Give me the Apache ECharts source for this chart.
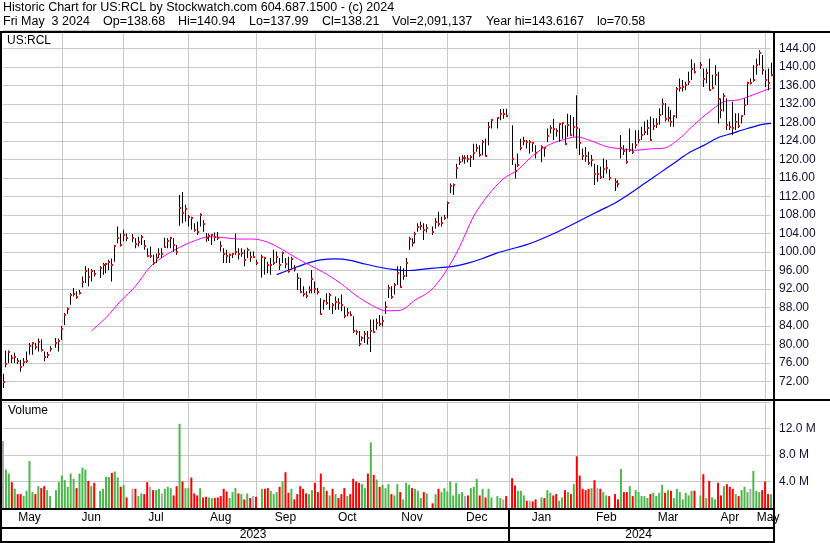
<!DOCTYPE html>
<html><head><meta charset="utf-8">
<script src="https://cdn.jsdelivr.net/npm/echarts@6/dist/echarts.min.js"></script>
<style>html,body{margin:0;padding:0;background:#fff}#c{width:830px;height:543px}</style>
</head><body><div id="c"></div>
<script>
// ---------- data ----------
const startDate = '2023-05-04', endDate = '2024-05-03';
const holidays = ['2023-05-29','2023-06-19','2023-07-04','2023-09-04','2023-11-23','2023-12-25','2024-01-01','2024-01-15','2024-02-19','2024-03-29'];
const monthNames = ['Jan','Feb','Mar','Apr','May','Jun','Jul','Aug','Sep','Oct','Nov','Dec'];
const priceTicks = {min: 68, max: 148, step: 4};
const volumeTicks = {min: 0, max: 16, step: 4};

const highs = [
 73.7,78.7,78.7,77.8,78.2,77.1,76.7,77.1,78.5,80.3,80.5,80.3,81.3,81.1,78.5,78.4,79.6, null,
 81.4,81.3,84.0,86.8,88.0,91.1,92.2,91.5,91.8,94.7,96.9,96.5,96.3,96.1, null,
 96.9,97.6,97.6,98.3,98.6,101.5,105.5,104.0,104.8,104.0, null,
 103.9,103.0,103.3,103.7,102.6,100.8,101.2,99.4,99.7,100.8,100.8,103.1,103.0,103.3,103.0,101.5,112.3,113.0,110.2,108.0,107.6,106.2,106.6,108.4,106.9,104.1,104.0,103.9,104.2,104.3,102.3,100.8,100.5,99.7,99.7,104.0,100.8,100.8,100.5,100.9,100.1,100.1,98.3, null,
 99.4,99.0,97.9,98.7,100.5,100.1,98.7,100.1,98.7,99.0,99.0,97.2,95.4,94.4,92.6,91.5,92.6,96.1,93.6,92.2,90.0,89.7,91.1,91.1,89.0,90.4,90.0,90.8,88.2,87.9,87.2,86.1,83.2,82.9,81.8,82.9,82.9,85.4,85.4,85.6,86.4,86.1,89.3,92.9,92.6,93.3,96.9,96.9,96.5,98.7,103.3,103.0,104.4,106.2,106.6,106.2,106.0, null,
 105.5,107.3,108.7,107.6,108.0,110.9,114.8,114.8,119.1,120.6,120.9,120.9,120.9,120.9,123.4,123.4,123.1,124.2,124.5,128.1,128.8, null,
 129.2,130.9,131.0,131.0, null,
 127.4,119.1,121.3,124.5,124.9,124.2,124.2,123.8,123.1, null,
 123.1,122.7,126.7,127.4,128.8,126.7,127.8,128.0,127.4,129.9,129.6,129.2,133.9,126.7,122.4,122.7,121.7,121.0,119.1,118.8,118.5,120.2,119.9,117.9, null,
 115.9,115.5,125.3,123.1,122.4,126.7,123.5,126.3,126.3,127.1,128.2,128.6,129.3,128.9,128.9,131.1,133.2,132.2,131.4,130.7,129.6,135.7,137.5,137.2,136.8,139.0,141.7,140.8, null,
 141.1,139.7,139.7,141.8,138.3,140.4,139.0,133.2,134.3,133.2,128.2,132.5,130.0,130.0,129.6,133.2,136.8,137.5,140.4,141.8,143.62,142.6,139.3,139.7,140.94
];
const lows = [
 70.58,75.1,76.0,76.0,76.0,75.8,74.1,75.3,76.0,77.8,77.8,78.9,78.5,78.5,76.4,77.1,78.5, null,
 79.3,78.5,81.0,84.2,86.6,88.6,90.4,89.9,90.8,92.3,93.3,92.6,93.6,94.7, null,
 94.4,95.1,95.4,96.1,93.6,97.9,101.9,101.2,102.3,102.3, null,
 102.1,100.8,101.2,101.5,100.5,99.0,98.7,97.2,97.6,98.7,98.7,100.9,100.8,100.8,100.0,99.4,105.7,106.2,106.6,105.5,104.8,104.4,103.7,105.5,104.4,102.2,102.4,101.5,102.3,102.6,100.1,97.6,97.6,97.6,98.7,99.4,98.4,99.0,96.9,98.7,97.9,98.7,97.2, null,
 94.5,95.1,95.4,95.1,97.2,97.6,96.1,97.6,96.5,95.5,96.5,95.8,91.8,91.1,90.4,90.0,91.1,91.1,91.1,90.8,86.4,87.5,88.6,87.5,86.6,87.5,87.5,87.2,85.7,86.1,86.1,82.5,82.1,79.6,80.7,80.3,80.0,78.4,82.5,83.2,84.0,83.9,86.6,90.05,89.9,90.8,92.9,92.2,94.0,94.6,100.5,101.2,101.9,104.4,104.8,102.6,104.2, null,
 103.7,105.1,105.5,105.5,107.0,107.3,112.7,112.3,115.9,118.8,119.5,119.1,119.4,118.4,119.9,121.7,120.6,120.9,120.6,123.1,126.7, null,
 126.7,128.5,128.8,129.3, null,
 118.8,115.9,118.4,122.0,123.1,122.4,121.3,121.7,120.2, null,
 119.4,120.6,123.8,125.6,124.2,124.9,123.8,124.5,123.1,124.9,125.2,125.0,122.4,121.0,119.9,119.5,118.8,118.5,114.5,115.2,115.8,116.0,117.0,115.5, null,
 113.2,114.0,120.2,121.0,119.1,121.7,121.2,122.4,123.5,124.2,125.3,125.3,124.0,126.4,126.8,127.5,129.6,128.2,128.2,127.1,127.1,128.9,134.7,134.7,135.0,136.1,137.2,138.6, null,
 139.6,135.7,136.5,134.8,135.2,136.1,127.8,128.9,130.4,126.4,126.4,125.3,126.4,126.8,127.8,129.6,131.8,136.2,136.8,138.3,140.4,138.3,135.7,135.0,137.99
];
const closes = [
 71.8,75.7,78.3,77.0,77.3,76.5,75.1,76.2,76.5,79.6,80.3,79.5,80.5,78.8,77.3,77.8,79.0, null,
 80.3,80.8,83.3,86.3,87.6,90.8,91.0,90.2,91.2,93.6,95.8,94.6,95.9,95.2, null,
 96.6,97.2,97.5,97.8,97.2,101.4,103.1,101.5,103.7,103.1, null,
 103.1,101.8,102.1,103.3,101.4,99.2,99.2,97.6,98.8,99.5,99.5,101.1,102.4,103.0,101.5,100.0,109.6,108.4,109.2,107.5,107.3,104.8,104.3,108.0,106.1,103.1,103.4,103.6,103.3,103.0,101.2,99.5,99.2,99.4,99.6,100.0,99.5,99.7,98.3,100.5,99.0,99.0,97.6, null,
 99.0,98.8,97.1,97.2,97.7,99.0,97.2,99.7,97.5,95.9,98.5,96.4,94.4,91.3,91.0,90.4,91.8,94.1,92.1,91.3,86.7,89.5,88.9,90.8,88.6,89.2,89.0,88.6,86.1,86.8,86.4,82.9,82.7,80.1,81.3,82.3,81.5,82.9,82.6,84.6,84.4,85.0,88.2,92.3,90.3,92.9,95.4,92.4,94.9,97.7,102.8,102.0,103.8,105.5,105.7,104.8,105.1, null,
 104.4,106.4,106.0,106.2,107.4,110.7,114.3,114.4,118.2,119.5,120.4,120.4,120.1,120.6,121.3,122.5,120.9,123.8,120.7,127.0,128.5, null,
 129.0,129.8,129.8,129.4, null,
 120.1,117.5,118.8,122.5,124.0,123.7,123.7,123.5,121.3, null,
 122.7,122.4,125.1,126.8,126.7,126.2,127.6,127.8,123.3,127.4,125.4,127.0,126.8,123.5,120.8,120.7,119.3,120.0,116.9,116.9,116.2,117.9,118.2,116.0, null,
 115.2,114.8,122.5,121.9,119.5,122.0,121.6,123.1,124.3,125.3,125.9,126.9,124.2,127.3,127.6,129.6,132.0,128.7,128.9,128.2,129.3,135.2,135.5,135.7,136.1,136.8,139.5,139.0, null,
 140.4,137.4,138.6,135.0,135.5,138.3,133.1,130.7,133.8,127.5,127.1,126.8,128.2,127.3,129.3,131.8,136.5,136.5,137.2,140.4,143.1,139.3,137.2,136.6,138.21
];
// volume in millions of shares
const volumes = [
 10.1,5.8,5.2,3.9,2.9,2.1,2.1,1.8,2.6,7.1,2.4,2.1,3.3,3.0,3.3,2.7,1.8, null,
 2.7,3.9,4.9,4.2,3.2,5.2,4.4,3.0,5.2,6.1,5.8,4.1,3.3,3.8, null,
 2.6,2.9,4.7,4.7,5.3,5.5,4.6,3.2,3.5,1.6, null,
 2.9,2.9,1.8,2.2,2.1,3.9,3.2,2.7,2.7,2.9,2.2,2.9,3.2,3.0,1.9,3.3,12.7,4.0,3.0,3.0,4.6,2.2,1.9,3.0,1.6,1.7,1.6,1.5,1.5,1.6,1.8,2.9,2.5,1.5,2.4,3.0,2.2,2.1,1.3,2.2,1.5,1.8,1.7, null,
 2.9,2.9,3.0,2.6,2.1,2.4,3.2,4.0,5.4,2.3,2.9,1.3,2.1,3.3,2.9,2.2,2.1,2.7,3.8,2.4,5.2,3.2,2.6,1.9,2.9,2.1,1.5,2.1,3.0,1.8,2.1,4.4,4.0,3.8,3.6,3.0,5.2,9.9,5.0,4.3,3.2,3.5,3.0,3.6,2.1,1.9,3.6,2.4,1.3,3.8,3.5,3.0,2.9,2.6,1.5,2.4,2.2, null,
 0.7,2.1,2.9,2.4,3.0,2.5,4.0,1.9,3.8,2.1,2.4,1.8,1.9,3.0,3.2,4.4,1.9,2.9,1.6,2.9,1.6, null,
 1.8,1.5,1.3,1.8, null,
 4.5,3.4,2.6,2.6,1.9,1.1,1.1,1.0,1.3, null,
 1.6,1.5,2.7,2.3,1.9,2.1,1.1,1.6,2.7,2.4,2.1,3.6,7.8,4.9,2.9,2.7,2.9,3.0,4.2,3.0,2.9,2.4,1.9,1.8, null,
 2.1,1.3,5.9,2.4,2.4,3.3,1.8,2.7,2.4,1.8,1.8,1.5,2.1,2.3,1.8,2.3,3.5,2.3,2.7,2.6,1.5,2.9,2.4,1.3,2.3,1.9,2.6,2.6, null,
 1.9,5.1,1.5,4.1,1.6,1.3,3.8,1.9,3.3,3.6,3.2,2.9,2.1,1.8,2.7,3.2,2.4,2.9,5.6,2.6,2.4,2.7,4.0,2.1,2.09
];
// g = up, r = down, n = unchanged, - = holiday
const volDirs = [
 'nggrgrrggggrgrrgg','-','gggggggrgggrgr','-','ggggrggrgr','-',
 'nrggrrnrggngggrrgrggrrrgrrggrrrrrgggrgrgrnr','-',
 'grrgggrgrrgrrrrrggrrrgrgrgrrrgrrrrggrgrgrgggrggrgggrgggrg','-',
 'rgrggggggggnrgggrgrgg','-','ggnr','-','rrgggrnrr','-',
 'grggrrggrgrgrrrrrgrnrggr','-','rrgrrgrgggggrggggrgrgggggggr','-',
 'grgrggrrgrrrgrgggngggrrrg'
].join('').split('');
// moving averages: [weekday slot, value]
const maFast = [[30,82.9],[35,85.8],[40,89.4],[45,92.6],[50,96.8],[55,99.2],[60,101.0],[65,102.4],[70,103.3],[75,103.1],[80,102.8],[85,102.8],[90,102.1],[95,100.5],[100,98.6],[105,96.9],[110,95.2],[115,93.1],[120,90.6],[125,88.6],[130,87.3],[135,87.4],[140,89.6],[145,91.5],[150,95.3],[155,100.9],[160,107.8],[165,112.4],[170,115.8],[175,117.8],[180,120.8],[185,123.0],[190,124.2],[195,124.9],[200,124.0],[205,122.8],[210,122.3],[215,122.0],[220,122.3],[225,122.5],[230,124.6],[235,127.6],[240,130.3],[245,132.5],[250,132.9],[255,134.0],[260,135.2],[261,135.4]];
const maSlow = [[93,95.1],[98,96.3],[103,97.5],[108,98.3],[113,98.5],[118,98.2],[123,97.4],[128,96.7],[133,96.2],[138,96.0],[143,96.3],[148,96.6],[153,96.9],[158,97.6],[163,98.6],[168,99.8],[173,100.7],[178,101.6],[183,102.8],[188,104.2],[193,105.8],[198,107.4],[203,109.0],[208,110.6],[213,112.6],[218,114.8],[223,117.0],[228,119.2],[233,121.4],[238,123.0],[243,124.7],[248,125.7],[253,126.7],[258,127.6],[261,127.8]];

const headerLine1 = 'Historic Chart for US:RCL by Stockwatch.com 604.687.1500 - (c) 2024';
const headerFields = ['Fri May  3 2024', 'Op=138.68', 'Hi=140.94', 'Lo=137.99', 'Cl=138.21', 'Vol=2,091,137', 'Year hi=143.6167', 'lo=70.58'];

// ---------- build weekday categories ----------
const DAY = 86400000;
const dates = [];
for (let t = Date.parse(startDate + 'T00:00:00Z'); t <= Date.parse(endDate + 'T00:00:00Z'); t += DAY) {
  const wd = new Date(t).getUTCDay();
  if (wd === 0 || wd === 6) continue;
  dates.push(new Date(t).toISOString().slice(0, 10));
}
const dayOf = s => new Date(s + 'T00:00:00Z');
const monthLine = dates.map((s) => {
  const d = dayOf(s);
  if (d.getUTCDate() === 1) return true;
  if (d.getUTCDay() === 5) {
    return new Date(d.getTime() + DAY).getUTCDate() === 1 || new Date(d.getTime() + 2 * DAY).getUTCDate() === 1;
  }
  return false;
});
monthLine[0] = false;
const groupMid = (keyFn) => {
  const g = {};
  dates.forEach((s, i) => { const k = keyFn(s); (g[k] = g[k] || []).push(i); });
  const set = new Set();
  Object.values(g).forEach(a => set.add(Math.floor((a[0] + a[a.length - 1]) / 2)));
  return set;
};
const monthMid = groupMid(s => s.slice(0, 7));
const yearMid = groupMid(s => s.slice(0, 4));
const janIdx = dates.indexOf('2024-01-01');

const ohlc = [];
dates.forEach((s, i) => { if (closes[i] != null) ohlc.push([i, highs[i], lows[i], closes[i]]); });
const dirColor = {g: '#4cb84c', r: '#ff0000', n: '#aaaaaa'};
const volData = volumes.map((v, i) => v == null ? null : {value: v, itemStyle: {color: dirColor[volDirs[i]]}});
const toLine = pairs => { const a = dates.map(() => null); pairs.forEach(([i, v]) => a[i] = v); return a; };

const FONT = '"Liberation Sans", Arial, sans-serif';
const HEAD_FONT = '12.5px ' + FONT;
const gridColor = '#c8c8c8';
const labelColor = '#101030';

// spread the second header line fields evenly between x=3 and x=645
const mctx = document.createElement('canvas').getContext('2d');
mctx.font = HEAD_FONT;
const fw = headerFields.map(t => mctx.measureText(t).width);
const gap = (642 - fw.reduce((a, b) => a + b, 0)) / (headerFields.length - 1);
const fieldX = [];
fw.reduce((x, w, k) => { fieldX[k] = x; return x + w + gap; }, 3);

const chart = echarts.init(document.getElementById('c'), null, {renderer: 'canvas'});
const frame = (x1, y1, x2, y2, w) => ({type: 'line', silent: true, z: 100, shape: {x1, y1, x2, y2}, style: {stroke: '#000', lineWidth: w}});
const texts = [
  {type: 'text', x: 3, y: 1, silent: true, style: {text: headerLine1, font: HEAD_FONT, fill: '#000'}},
  ...headerFields.map((t, k) => ({type: 'text', x: Math.round(fieldX[k]), y: 15, silent: true, style: {text: t, font: HEAD_FONT, fill: '#000'}})),
  {type: 'text', x: 7, y: 35, silent: true, style: {text: 'US:RCL', font: '12px ' + FONT, fill: '#000'}},
  {type: 'text', x: 8, y: 405, silent: true, style: {text: 'Volume', font: '12px ' + FONT, fill: '#000'}}
];

chart.setOption({
  animation: false,
  backgroundColor: '#fff',
  grid: [
    {left: 3, right: 59, top: 30, height: 370},
    {left: 3, right: 59, top: 402, height: 106}
  ],
  xAxis: [
    {gridIndex: 0, type: 'category', data: dates, boundaryGap: false,
      axisLine: {show: false}, axisTick: {show: false}, axisLabel: {show: false},
      splitLine: {show: true, interval: (i) => monthLine[i], lineStyle: {color: gridColor, width: 1}}},
    {gridIndex: 1, type: 'category', data: dates, boundaryGap: false,
      axisLine: {show: false},
      axisTick: {show: true, interval: (i) => i === janIdx, length: 33, lineStyle: {color: '#000', width: 2}},
      axisLabel: {interval: (i) => monthMid.has(i), formatter: (v) => monthNames[+v.slice(5, 7) - 1],
        margin: 4, fontSize: 12, fontFamily: FONT, color: '#000'},
      splitLine: {show: true, interval: (i) => monthLine[i], lineStyle: {color: gridColor, width: 1}}},
    {gridIndex: 1, type: 'category', data: dates, boundaryGap: false, position: 'bottom', offset: 19,
      axisLine: {show: false}, axisTick: {show: false}, splitLine: {show: false},
      axisLabel: {interval: (i) => yearMid.has(i), formatter: (v) => v.slice(0, 4),
        margin: 2, fontSize: 12, fontFamily: FONT, color: '#000'}}
  ],
  yAxis: [
    {gridIndex: 0, type: 'value', position: 'right', min: priceTicks.min, max: priceTicks.max, interval: priceTicks.step,
      axisLine: {show: false}, axisTick: {show: false},
      splitLine: {lineStyle: {color: gridColor, width: 1}},
      axisLabel: {formatter: (v) => (v <= priceTicks.min || v >= priceTicks.max) ? '' : v.toFixed(2),
        margin: 8, fontSize: 12, fontFamily: FONT, color: labelColor}},
    {gridIndex: 1, type: 'value', position: 'right', min: volumeTicks.min, max: volumeTicks.max, interval: volumeTicks.step,
      axisLine: {show: false}, axisTick: {show: false},
      splitLine: {lineStyle: {color: gridColor, width: 1}},
      axisLabel: {formatter: (v) => (v <= volumeTicks.min || v >= volumeTicks.max) ? '' : v.toFixed(1) + ' M',
        margin: 8, fontSize: 12, fontFamily: FONT, color: labelColor}}
  ],
  series: [
    {type: 'line', name: 'slowMA', xAxisIndex: 0, yAxisIndex: 0, data: toLine(maSlow), connectNulls: true,
      showSymbol: false, smooth: 0.3, lineStyle: {color: '#0000ff', width: 1.2}, z: 3, silent: true},
    {type: 'line', name: 'fastMA', xAxisIndex: 0, yAxisIndex: 0, data: toLine(maFast), connectNulls: true,
      showSymbol: false, smooth: 0.3, lineStyle: {color: '#ff00ff', width: 1}, z: 3, silent: true},
    {type: 'custom', name: 'price', xAxisIndex: 0, yAxisIndex: 0, data: ohlc, clip: false, z: 4,
      encode: {x: 0, y: [1, 2, 3]},
      renderItem: (params, api) => {
        const i = api.value(0);
        const pH = api.coord([i, api.value(1)]);
        const pL = api.coord([i, api.value(2)]);
        const pC = api.coord([i, api.value(3)]);
        const x = Math.floor(pH[0]);
        return {type: 'group', children: [
          {type: 'rect', shape: {x: x, y: pH[1], width: 1, height: Math.max(1, pL[1] - pH[1])}, style: {fill: '#000'}},
          {type: 'rect', shape: {x: x, y: Math.round(pC[1]) - 1, width: 2, height: 2}, style: {fill: '#ff0000'}}
        ]};
      }},
    {type: 'bar', name: 'volume', xAxisIndex: 1, yAxisIndex: 1, data: volData, barWidth: 2, silent: true}
  ],
  graphic: [
    ...texts,
    frame(0, 32, 830, 32, 2),
    frame(0, 400, 830, 400, 2),
    frame(0, 509, 775, 509, 2),
    frame(0, 528, 775, 528, 2),
    frame(0, 542, 775, 542, 2),
    frame(1, 31, 1, 543, 2),
    frame(774, 31, 774, 543, 2)
  ]
});
</script>
</body></html>
